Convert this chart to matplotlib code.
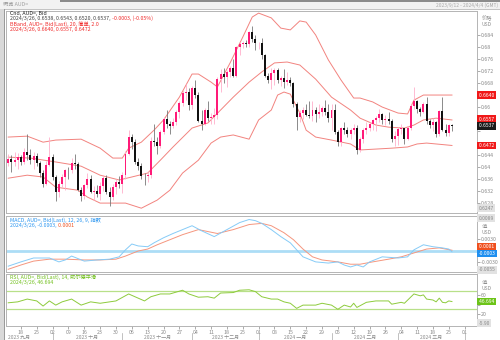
import numpy as np
import pandas as pd
import matplotlib
matplotlib.use('Agg')
import matplotlib.pyplot as plt
from matplotlib.patches import Rectangle

plt.rcParams['font.family'] = ['Noto Sans CJK SC', 'DejaVu Sans']

# AUD= 日线 (2023/9/12 - 2024/3/26), 开盘取前一日收盘
first_open = 0.6412
closes = [0.6427, 0.6417, 0.6424, 0.6433, 0.6418, 0.6450, 0.6440, 0.6423, 0.6436, 0.6415,
          0.6380, 0.6345, 0.6408, 0.6433, 0.6366, 0.6317, 0.6345, 0.6368, 0.6390, 0.6389,
          0.6415, 0.6410, 0.6325, 0.6302, 0.6340, 0.6360, 0.6318, 0.6320, 0.6311, 0.6336,
          0.6362, 0.6318, 0.6300, 0.6333, 0.6350, 0.6342, 0.6372, 0.6445, 0.6500, 0.6485,
          0.6418, 0.6402, 0.6370, 0.6370, 0.6372, 0.6488, 0.6483, 0.6470, 0.6518, 0.6560,
          0.6545, 0.6536, 0.6550, 0.6583, 0.6613, 0.6647, 0.6650, 0.6606, 0.6665, 0.6640,
          0.6555, 0.6545, 0.6590, 0.6565, 0.6567, 0.6572, 0.6695, 0.6710, 0.6700, 0.6717,
          0.6730, 0.6705, 0.6800, 0.6810, 0.6812, 0.6810, 0.6850, 0.6826, 0.6812, 0.6815,
          0.6772, 0.6703, 0.6690, 0.6715, 0.6722, 0.6690, 0.6697, 0.6685, 0.6691, 0.6680,
          0.6610, 0.6568, 0.6580, 0.6590, 0.6575, 0.6570, 0.6590, 0.6578, 0.6582, 0.6598,
          0.6583, 0.6565, 0.6590, 0.6518, 0.6483, 0.6530, 0.6522, 0.6510, 0.6525, 0.6530,
          0.6458, 0.6492, 0.6525, 0.6530, 0.6543, 0.6556, 0.6565, 0.6578, 0.6558, 0.6560,
          0.6553, 0.6495, 0.6502, 0.6528, 0.6530, 0.6495, 0.6530, 0.6605, 0.6620, 0.6593,
          0.6585, 0.6610, 0.6555, 0.6540, 0.6550, 0.6510, 0.6587, 0.6525, 0.6513, 0.6540,
          0.6537]
highs = [0.6445, 0.6440, 0.6450, 0.6446, 0.6440, 0.6465, 0.6511, 0.6460, 0.6450, 0.6446,
         0.6420, 0.6390, 0.6420, 0.6501, 0.6445, 0.6372, 0.6352, 0.6377, 0.6395, 0.6400,
         0.6430, 0.6445, 0.6418, 0.6335, 0.6345, 0.6381, 0.6375, 0.6337, 0.6340, 0.6350,
         0.6374, 0.6375, 0.6335, 0.6345, 0.6360, 0.6370, 0.6385, 0.6455, 0.6522, 0.6510,
         0.6492, 0.6430, 0.6415, 0.6380, 0.6385, 0.6500, 0.6542, 0.6500, 0.6525, 0.6568,
         0.6590, 0.6555, 0.6563, 0.6590, 0.6620, 0.6656, 0.6676, 0.6663, 0.6670, 0.6690,
         0.6650, 0.6590, 0.6597, 0.6620, 0.6580, 0.6598, 0.6700, 0.6728, 0.6730, 0.6722,
         0.6737, 0.6760, 0.6805, 0.6818, 0.6820, 0.6825, 0.6855, 0.6871, 0.6840, 0.6818,
         0.6830, 0.6777, 0.6714, 0.6730, 0.6730, 0.6730, 0.6702, 0.6728, 0.6716, 0.6700,
         0.6685, 0.6618, 0.6590, 0.6600, 0.6610, 0.6620, 0.6620, 0.6600, 0.6610, 0.6605,
         0.6625, 0.6610, 0.6610, 0.6610, 0.6525, 0.6535, 0.6550, 0.6535, 0.6530, 0.6545,
         0.6540, 0.6500, 0.6530, 0.6550, 0.6550, 0.6560, 0.6570, 0.6595, 0.6580, 0.6575,
         0.6585, 0.6560, 0.6520, 0.6535, 0.6545, 0.6530, 0.6538, 0.6610, 0.6668, 0.6623,
         0.6600, 0.6618, 0.6635, 0.6560, 0.6565, 0.6553, 0.6590, 0.6635, 0.6545, 0.6545,
         0.6543]
lows = [0.6405, 0.6385, 0.6405, 0.6395, 0.6408, 0.6410, 0.6425, 0.6410, 0.6395, 0.6405,
        0.6366, 0.6332, 0.6340, 0.6405, 0.6358, 0.6286, 0.6300, 0.6335, 0.6325, 0.6360,
        0.6380, 0.6395, 0.6320, 0.6286, 0.6295, 0.6330, 0.6312, 0.6290, 0.6300, 0.6290,
        0.6320, 0.6310, 0.6270, 0.6290, 0.6310, 0.6330, 0.6315, 0.6360, 0.6440, 0.6460,
        0.6410, 0.6390, 0.6360, 0.6340, 0.6350, 0.6365, 0.6470, 0.6445, 0.6465, 0.6510,
        0.6530, 0.6510, 0.6530, 0.6540, 0.6565, 0.6605, 0.6625, 0.6590, 0.6595, 0.6630,
        0.6550, 0.6525, 0.6540, 0.6555, 0.6545, 0.6545, 0.6560, 0.6650, 0.6680, 0.6667,
        0.6700, 0.6700, 0.6700, 0.6775, 0.6798, 0.6800, 0.6800, 0.6818, 0.6790, 0.6795,
        0.6760, 0.6700, 0.6680, 0.6660, 0.6675, 0.6680, 0.6670, 0.6665, 0.6675, 0.6670,
        0.6600, 0.6525, 0.6550, 0.6560, 0.6570, 0.6565, 0.6555, 0.6550, 0.6565, 0.6570,
        0.6575, 0.6550, 0.6525, 0.6510, 0.6470, 0.6470, 0.6510, 0.6500, 0.6495, 0.6510,
        0.6442, 0.6450, 0.6480, 0.6510, 0.6520, 0.6525, 0.6520, 0.6550, 0.6545, 0.6540,
        0.6545, 0.6485, 0.6470, 0.6475, 0.6510, 0.6478, 0.6490, 0.6525, 0.6595, 0.6580,
        0.6570, 0.6580, 0.6545, 0.6530, 0.6520, 0.6500, 0.6505, 0.6520, 0.6505, 0.6505,
        0.6520]

# 布林带 (20, 2.0)
bb_upper_dates = ['2023-09-12', '2023-09-20', '2023-09-27', '2023-10-03', '2023-10-13', '2023-10-23',
                  '2023-10-27', '2023-11-01', '2023-11-03', '2023-11-09', '2023-11-15', '2023-11-20',
                  '2023-11-27', '2023-12-01', '2023-12-05', '2023-12-11', '2023-12-13', '2023-12-19',
                  '2023-12-25', '2023-12-28', '2024-01-01', '2024-01-05', '2024-01-10', '2024-01-15',
                  '2024-01-18', '2024-01-22', '2024-01-25', '2024-01-31', '2024-02-06', '2024-02-12',
                  '2024-02-14', '2024-02-20', '2024-02-23', '2024-03-01', '2024-03-06', '2024-03-08',
                  '2024-03-13', '2024-03-26']
bb_upper = [0.6500, 0.6503, 0.6483, 0.6490, 0.6493, 0.6463, 0.6430, 0.6430, 0.6463, 0.6483,
            0.6523, 0.6557, 0.6633, 0.6710, 0.6710, 0.6683, 0.6667, 0.6747, 0.6833, 0.6900,
            0.6913, 0.6897, 0.6863, 0.6857, 0.6887, 0.6883, 0.6840, 0.6757, 0.6690, 0.6630,
            0.6630, 0.6617, 0.6600, 0.6580, 0.6577, 0.6623, 0.6640, 0.6640]
bb_mid_dates = ['2023-09-12', '2023-09-21', '2023-10-03', '2023-10-13', '2023-10-23', '2023-10-31',
                '2023-11-06', '2023-11-13', '2023-11-17', '2023-11-23', '2023-12-01', '2023-12-08',
                '2023-12-14', '2023-12-20', '2023-12-27', '2024-01-02', '2024-01-08', '2024-01-12',
                '2024-01-18', '2024-01-25', '2024-02-01', '2024-02-09', '2024-02-14', '2024-02-21',
                '2024-02-27', '2024-03-05', '2024-03-08', '2024-03-13', '2024-03-19', '2024-03-26']
bb_mid = [0.6433, 0.6430, 0.6417, 0.6403, 0.6373, 0.6357, 0.6367, 0.6380, 0.6423, 0.6467,
          0.6530, 0.6547, 0.6590, 0.6633, 0.6683, 0.6717, 0.6747, 0.6750, 0.6740, 0.6693,
          0.6633, 0.6590, 0.6563, 0.6540, 0.6533, 0.6530, 0.6540, 0.6557, 0.6563, 0.6557]
bb_lower_dates = ['2023-09-12', '2023-09-20', '2023-09-27', '2023-10-03', '2023-10-12', '2023-10-17',
                  '2023-10-23', '2023-11-02', '2023-11-09', '2023-11-16', '2023-11-22', '2023-11-28',
                  '2023-12-05', '2023-12-11', '2023-12-14', '2023-12-20', '2023-12-27', '2024-01-01',
                  '2024-01-05', '2024-01-09', '2024-01-11', '2024-01-15', '2024-01-18', '2024-01-22',
                  '2024-01-25', '2024-02-01', '2024-02-09', '2024-02-14', '2024-02-21', '2024-02-28',
                  '2024-03-06', '2024-03-11', '2024-03-14', '2024-03-26']
bb_lower = [0.6363, 0.6373, 0.6367, 0.6333, 0.6323, 0.6300, 0.6280, 0.6280, 0.6263, 0.6290,
            0.6323, 0.6380, 0.6423, 0.6480, 0.6500, 0.6507, 0.6493, 0.6557, 0.6590, 0.6640,
            0.6650, 0.6643, 0.6580, 0.6523, 0.6500, 0.6490, 0.6477, 0.6457, 0.6460, 0.6463,
            0.6467, 0.6477, 0.6480, 0.6472]

# MACD (12, 26, 9)
macd_dates = ['2023-09-12', '2023-09-18', '2023-09-22', '2023-09-27', '2023-09-29', '2023-10-04',
              '2023-10-06', '2023-10-10', '2023-10-16', '2023-10-20', '2023-10-26', '2023-10-31',
              '2023-11-02', '2023-11-06', '2023-11-08', '2023-11-13', '2023-11-15', '2023-11-20',
              '2023-11-23', '2023-11-28', '2023-12-01', '2023-12-06', '2023-12-12', '2023-12-18',
              '2023-12-22', '2023-12-27', '2023-12-29', '2024-01-02', '2024-01-05', '2024-01-10',
              '2024-01-15', '2024-01-17', '2024-01-19', '2024-01-25', '2024-01-31', '2024-02-05',
              '2024-02-07', '2024-02-09', '2024-02-13', '2024-02-15', '2024-02-19', '2024-02-23',
              '2024-03-01', '2024-03-06', '2024-03-08', '2024-03-13', '2024-03-18', '2024-03-21',
              '2024-03-25', '2024-03-26']
macd = [-0.0040, -0.0029, -0.0019, -0.0019, -0.0019, -0.0029, -0.0024, -0.0014, -0.0027, -0.0024,
        -0.0022, -0.0016, 0.0002, 0.0017, 0.0012, 0.0010, 0.0020, 0.0033, 0.0044, 0.0054,
        0.0064, 0.0051, 0.0036, 0.0054, 0.0072, 0.0080, 0.0077, 0.0070, 0.0054, 0.0036,
        0.0020, 0.0002, -0.0016, -0.0029, -0.0032, -0.0029, -0.0037, -0.0042, -0.0037, -0.0042,
        -0.0029, -0.0016, -0.0019, -0.0016, 0.0002, 0.0015, 0.0010, 0.0007, 0.0004, -0.0003]
signal_dates = ['2023-09-12', '2023-09-18', '2023-09-22', '2023-09-29', '2023-10-06', '2023-10-16',
                '2023-10-23', '2023-10-30', '2023-11-02', '2023-11-08', '2023-11-13', '2023-11-16',
                '2023-11-22', '2023-11-28', '2023-12-05', '2023-12-08', '2023-12-13', '2023-12-20',
                '2023-12-27', '2024-01-02', '2024-01-05', '2024-01-11', '2024-01-16', '2024-01-19',
                '2024-01-24', '2024-01-29', '2024-02-05', '2024-02-09', '2024-02-14', '2024-02-20',
                '2024-02-27', '2024-03-04', '2024-03-08', '2024-03-14', '2024-03-20', '2024-03-26']
signal = [-0.0048, -0.0037, -0.0027, -0.0022, -0.0022, -0.0024, -0.0024, -0.0022, -0.0014, -0.0001,
          0.0004, 0.0015, 0.0028, 0.0041, 0.0054, 0.0049, 0.0044, 0.0054, 0.0067, 0.0070,
          0.0064, 0.0046, 0.0028, 0.0004, -0.0016, -0.0024, -0.0029, -0.0035, -0.0035, -0.0029,
          -0.0022, -0.0016, -0.0006, 0.0004, 0.0007, 0.0001]

# RSI (14, 威尔德平滑)
rsi_dates = ['2023-09-12', '2023-09-15', '2023-09-20', '2023-09-25', '2023-09-27', '2023-09-29',
             '2023-10-03', '2023-10-05', '2023-10-10', '2023-10-13', '2023-10-18', '2023-10-23',
             '2023-10-26', '2023-10-30', '2023-11-03', '2023-11-08', '2023-11-10', '2023-11-14',
             '2023-11-17', '2023-11-22', '2023-11-28', '2023-11-30', '2023-12-05', '2023-12-08',
             '2023-12-12', '2023-12-14', '2023-12-20', '2023-12-22', '2023-12-27', '2023-12-29',
             '2024-01-02', '2024-01-05', '2024-01-09', '2024-01-11', '2024-01-15', '2024-01-17',
             '2024-01-19', '2024-01-25', '2024-01-29', '2024-02-01', '2024-02-05', '2024-02-07',
             '2024-02-09', '2024-02-12', '2024-02-13', '2024-02-16', '2024-02-21', '2024-02-27',
             '2024-02-28', '2024-03-04', '2024-03-05', '2024-03-08', '2024-03-12', '2024-03-13',
             '2024-03-14', '2024-03-18', '2024-03-19', '2024-03-20', '2024-03-21', '2024-03-22',
             '2024-03-25', '2024-03-26']
rsi = [44, 46, 52, 48, 37, 48, 39, 46, 52, 39, 46, 43, 46, 48, 63, 54, 48, 57, 63, 63,
       71, 63, 56, 57, 54, 65, 66, 71, 72, 68, 57, 52, 52, 46, 43, 32, 39, 39, 43, 39,
       30, 39, 35, 43, 34, 45, 48, 48, 41, 45, 43, 63, 59, 61, 52, 50, 46, 54, 45, 44,
       48, 46.694]

month_names = ['一月', '二月', '三月', '四月', '五月', '六月',
               '七月', '八月', '九月', '十月', '十一月', '十二月']

W, H = 500, 340
UP, UP_WICK = '#FF1A78', '#FFAFCB'
DOWN, DOWN_WICK = '#111111', '#777777'
BAND = '#F2837F'
RED_TXT = '#F02828'
MACD_C, SIG_C, ZERO_C = '#86CBF7', '#F5967E', '#ACDDF6'
RSI_C, RSI_LVL = '#8DCB3C', '#B8E089'
FRAME = '#B4B4B4'
TICK_C = '#8A8A8A'


def frac(x0, y0, x1, y1):
    return [x0 / W, 1 - y1 / H, (x1 - x0) / W, (y1 - y0) / H]


days = pd.bdate_range('2023-09-12', '2024-04-04')
bar_of = {d.strftime('%Y-%m-%d'): i for i, d in enumerate(days)}


def bars(dates):
    return [bar_of[d] for d in dates]


def ticks_clear_of(ticks, fmt, taken, gap):
    # 被右侧数值标签盖住的刻度不写文字
    return [fmt(v) if all(abs(v - t) > gap for t in taken) else '' for v in ticks]


fig = plt.figure(figsize=(W / 100, H / 100), dpi=100)
fig.patch.set_facecolor('white')

# 窗口外框: 顶部标签栏和左侧边条
fig.add_artist(Rectangle((0, 1 - 9 / H), 1, 9 / H, transform=fig.transFigure,
                         fc='#F2F2F2', ec='none', zorder=0))
fig.add_artist(Rectangle((60 / W, 1 - 2 / H), 1, 2 / H, transform=fig.transFigure,
                         fc='#8C8C8C', ec='none', zorder=0))
fig.add_artist(Rectangle((0, 1 - 9.5 / H), 1, 1 / H, transform=fig.transFigure,
                         fc='#C4C4C4', ec='none', zorder=0))
fig.add_artist(Rectangle((0, 0), 5 / W, 1 - 9 / H, transform=fig.transFigure,
                         fc='#D9D9D9', ec='none', zorder=0))
fig.add_artist(Rectangle((4 / W, 0), 1.2 / W, 1 - 9 / H, transform=fig.transFigure,
                         fc='#9A9A9A', ec='none', zorder=0))
fig.text(3 / W, 1 - 4 / H, '概览 AUD=', fontsize=3.8, color='#A0A0A0', va='center')
fig.text(498 / W, 1 - 5 / H, '2023/9/12 - 2024/4/4 (GMT)', fontsize=3.5, color='#A8A8A8',
         va='center', ha='right')

ax_p = fig.add_axes(frac(6, 11, 477, 213))
ax_m = fig.add_axes(frac(6, 216, 477, 272))
ax_r = fig.add_axes(frac(6, 274, 477, 326))

xlim = (-0.7, 147.9)
for ax in (ax_p, ax_m, ax_r):
    ax.set_xlim(*xlim)
    ax.set_facecolor('white')
    for s in ax.spines.values():
        s.set_color(FRAME)
        s.set_linewidth(0.7)
    ax.yaxis.tick_right()
    ax.tick_params(axis='y', direction='out', length=2, width=0.5, colors=TICK_C,
                   labelsize=3.8, pad=1)
    ax.tick_params(axis='x', bottom=False, labelbottom=False)

# K 线
n = len(closes)
x = np.arange(n)
c = np.array(closes)
o = np.array([first_open] + closes[:-1])
h = np.array(highs)
l = np.array(lows)
up = c > o
body_lo = np.minimum(o, c)
body_h = np.maximum(np.abs(c - o), 0.00012)

ax_p.vlines(x[up], l[up], h[up], color=UP_WICK, lw=0.6, zorder=2)
ax_p.vlines(x[~up], l[~up], h[~up], color=DOWN_WICK, lw=0.6, zorder=2)
ax_p.bar(x[up], body_h[up], bottom=body_lo[up], width=0.62, color=UP, lw=0, zorder=3)
ax_p.bar(x[~up], body_h[~up], bottom=body_lo[~up], width=0.62, color=DOWN, lw=0, zorder=3)

ax_p.plot(bars(bb_upper_dates), bb_upper, color=BAND, lw=0.7, zorder=1)
ax_p.plot(bars(bb_mid_dates), bb_mid, color=BAND, lw=0.7, zorder=1)
ax_p.plot(bars(bb_lower_dates), bb_lower, color=BAND, lw=0.7, zorder=1)

ax_p.set_ylim(0.6247, 0.692)
p_ticks = np.arange(0.628, 0.6841, 0.004)
ax_p.set_yticks(p_ticks)
ax_p.set_yticklabels(ticks_clear_of(p_ticks, lambda v: f'{v:.3f}'.rstrip('0'),
                                    [bb_upper[-1], bb_mid[-1], closes[-1], bb_lower[-1]], 0.0017))

# MACD
ax_m.axhline(0, color=ZERO_C, lw=2.0, zorder=1)
ax_m.plot(bars(signal_dates), signal, color=SIG_C, lw=0.7, zorder=2)
ax_m.plot(bars(macd_dates), macd, color=MACD_C, lw=0.7, zorder=3)
ax_m.set_ylim(-0.0055, 0.0089)
ax_m.set_yticks([-0.003, 0.003])
ax_m.set_yticklabels(['-0.0030', '0.0030'])

# RSI
ax_r.axhline(70, color=RSI_LVL, lw=0.9, zorder=1)
ax_r.axhline(30, color=RSI_LVL, lw=0.9, zorder=1)
ax_r.plot(bars(rsi_dates), rsi, color=RSI_C, lw=0.7, zorder=2)
ax_r.set_ylim(-5.9, 105.9)
r_ticks = [20, 40, 60]
ax_r.set_yticks(r_ticks)
ax_r.set_yticklabels(ticks_clear_of(r_ticks, lambda v: f'{v}', [rsi[-1]], 8))

# 日期轴: 每周一
mondays = [i for i, d in enumerate(days) if d.weekday() == 0]
ax_r.set_xticks(mondays)
ax_r.set_xticklabels([days[i].strftime('%d') for i in mondays])
ax_r.tick_params(axis='x', bottom=True, labelbottom=True, direction='out', length=2,
                 width=0.5, colors=TICK_C, labelsize=3.8, pad=1)

# 月份标签和分隔线
xt = ax_r.get_xaxis_transform()
month_start = pd.date_range('2023-09-01', '2024-04-01', freq='MS')
starts = []
for m in month_start:
    first_bd = pd.bdate_range(m, m + pd.offsets.MonthEnd(0))[0]
    starts.append(days.searchsorted(first_bd) if first_bd >= days[0] else
                  -len(pd.bdate_range(first_bd, days[0])) + 1)
for k in range(len(month_start) - 1):
    a, b = starts[k], starts[k + 1]
    mid = (a + b) / 2
    m = month_start[k]
    ax_r.text(mid, -0.215, f'{m.year} {month_names[m.month - 1]}', transform=xt,
              ha='center', va='center', fontsize=3.6, color=TICK_C, clip_on=False)
for s in starts[1:]:
    if xlim[0] < s < xlim[1]:
        ax_r.plot([s, s], [-0.13, -0.27], transform=xt, color='#A8A8A8', lw=0.5,
                  clip_on=False)


# 右侧数值标签
def side_label(ax, y, text, fc, tc='white', dy=0):
    ax.annotate(text, xy=(1.0, y), xycoords=ax.get_yaxis_transform(),
                xytext=(1.2, dy), textcoords='offset points', ha='left', va='center',
                fontsize=3.6, color=tc, zorder=6, annotation_clip=False,
                bbox=dict(boxstyle='square,pad=0.25', fc=fc, ec='none'))


side_label(ax_p, bb_upper[-1], f'{bb_upper[-1]:.4f} ', '#F01818')
side_label(ax_p, bb_mid[-1], f'{bb_mid[-1]:.4f} ', '#F01818', dy=0.6)
side_label(ax_p, closes[-1], f'{closes[-1]:.4f} ', '#1A1A1A')
side_label(ax_p, bb_lower[-1], f'{bb_lower[-1]:.4f} ', '#F01818')
side_label(ax_p, ax_p.get_ylim()[0], f'{ax_p.get_ylim()[0]:.4f}', '#E2E2E2', tc='#8A8A8A', dy=3.5)
side_label(ax_m, signal[-1], f'{signal[-1]:.4f} ', '#F0501E', dy=2.5)
side_label(ax_m, macd[-1], f'{macd[-1]:.4f}', '#1E8FF0', dy=-1.2)
side_label(ax_m, ax_m.get_ylim()[1], f'{ax_m.get_ylim()[1]:.4f}', '#E2E2E2', tc='#8A8A8A', dy=-1.5)
side_label(ax_m, ax_m.get_ylim()[0], f'{ax_m.get_ylim()[0]:.4f}', '#E2E2E2', tc='#8A8A8A', dy=1.5)
side_label(ax_r, rsi[-1], f'{rsi[-1]:.3f} ', '#6CC418')
side_label(ax_r, ax_r.get_ylim()[0], f'{ax_r.get_ylim()[0]:.2f}', '#E2E2E2', tc='#8A8A8A', dy=2.0)

for ax, y_px, gap, name in ((ax_p, 11, 7, '价格'), (ax_m, 216, 10, '值'), (ax_r, 274, 8, '值')):
    fig.text(482 / W, 1 - (y_px + gap) / H, name, fontsize=3.8, color='#909090', va='center')
    fig.text(482 / W, 1 - (y_px + gap + 6) / H, 'USD', fontsize=3.6, color='#909090', va='center')

# 图例文字 (多色拼接)
renderer = fig.canvas.get_renderer()


def rich_line(x_px, y_px, parts, size=3.8):
    xx = x_px
    for txt, col in parts:
        t = fig.text(xx / W, 1 - y_px / H, txt, color=col, fontsize=size, va='center', ha='left')
        xx += t.get_window_extent(renderer).width


rich_line(10, 13, [('Cnd, AUD=, Bid', '#202020')])
rich_line(10, 18.5, [('2024/3/26, 0.6538, 0.6543, 0.6520, 0.6537,', '#404040'),
                     (' -0.0003, (-0.05%)', RED_TXT)])
rich_line(10, 24, [('BBand, AUD=, Bid(Last), 20, 简单, 2.0', RED_TXT)])
rich_line(10, 29.5, [(f'2024/3/26, {bb_upper[-1]:.4f}, {bb_mid[-1]:.4f}, {bb_lower[-1]:.4f}', RED_TXT)])

rich_line(10, 220, [('MACD, AUD=, Bid(Last), 12, 26, 9, 指数', '#2A95F0')])
rich_line(10, 225.5, [('2024/3/26, -0.0003,', '#2A95F0'), (' 0.0001', '#F0501E')])

rich_line(10, 277, [('RSI, AUD=, Bid(Last), 14, 威尔德平滑', '#72C01E')])
rich_line(10, 282.5, [('2024/3/26, 46.694', '#72C01E')])

fig.savefig('out.png', dpi=100, facecolor=fig.get_facecolor())
